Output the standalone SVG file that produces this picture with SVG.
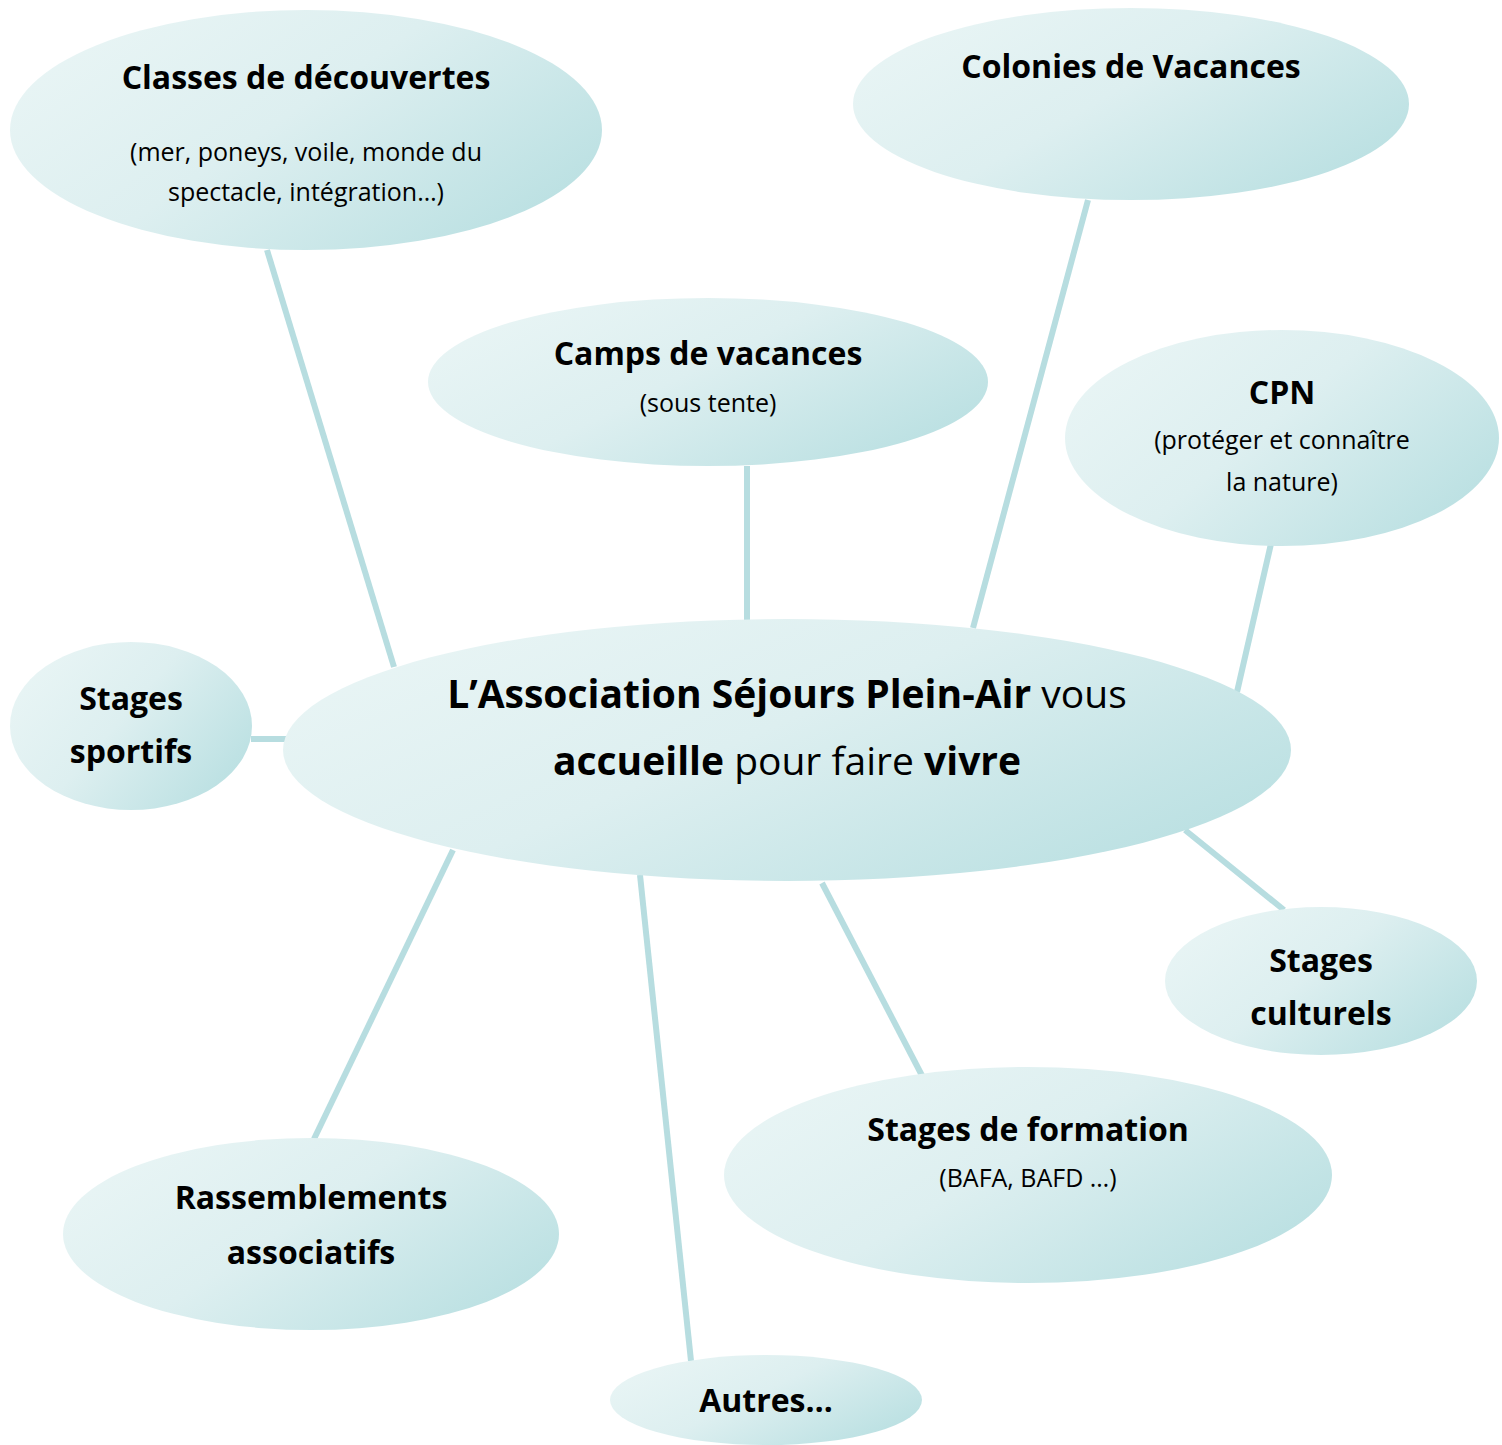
<svg xmlns="http://www.w3.org/2000/svg" width="1502" height="1445" viewBox="0 0 1502 1445">
<defs>
<linearGradient id="g" x1="0" y1="0.2" x2="1" y2="0.8">
<stop offset="0" stop-color="#e9f5f5"/>
<stop offset="0.45" stop-color="#ddeff0"/>
<stop offset="1" stop-color="#b8dfe1"/>
</linearGradient>
<style>
.n{fill:url(#g);}
.c line{stroke:#b7dde0;stroke-width:6;}
text{font-family:"Open Sans",Lato,"Liberation Sans",sans-serif;fill:#000;text-anchor:middle;}
.t{font-size:32px;font-weight:bold;}
.s{font-size:25px;}
.m{font-size:39px;}
.b{font-weight:bold;}
</style>
</defs>
<rect width="1502" height="1445" fill="#fff"/>
<g class="c" id="connectors">
<line x1="267" y1="250" x2="394" y2="667"/>
<line x1="1088" y1="200" x2="973" y2="628"/>
<line x1="747" y1="466" x2="747" y2="620"/>
<line x1="1273" y1="535" x2="1237" y2="692"/>
<line x1="251" y1="739" x2="288" y2="739"/>
<line x1="1185" y1="830" x2="1284" y2="910"/>
<line x1="822" y1="883" x2="929" y2="1089"/>
<line x1="640" y1="875" x2="691" y2="1361"/>
<line x1="453" y1="850" x2="314" y2="1139"/>
</g>
<g id="classes">
<ellipse class="n" cx="306" cy="130" rx="296" ry="120"/>
<text class="t" x="306" y="89">Classes de découvertes</text>
<text class="s" x="306" y="161">(mer, poneys, voile, monde du</text>
<text class="s" x="306" y="201">spectacle, intégration…)</text>
</g>
<g id="colonies">
<ellipse class="n" cx="1131" cy="104" rx="278" ry="96"/>
<text class="t" x="1131" y="78">Colonies de Vacances</text>
</g>
<g id="camps">
<ellipse class="n" cx="708" cy="382" rx="280" ry="84"/>
<text class="t" x="708" y="365">Camps de vacances</text>
<text class="s" x="708" y="412">(sous tente)</text>
</g>
<g id="cpn">
<ellipse class="n" cx="1282" cy="438" rx="217" ry="108"/>
<text class="t" x="1282" y="404">CPN</text>
<text class="s" x="1282" y="449">(protéger et connaître</text>
<text class="s" x="1282" y="491">la nature)</text>
</g>
<g id="central">
<ellipse class="n" cx="787" cy="750" rx="504" ry="131"/>
<text class="m" x="787" y="708"><tspan class="b">L’Association Séjours Plein-Air</tspan> vous</text>
<text class="m" x="787" y="775"><tspan class="b">accueille</tspan> pour faire <tspan class="b">vivre</tspan></text>
</g>
<g id="sportifs">
<ellipse class="n" cx="131" cy="726" rx="121" ry="84"/>
<text class="t" x="131" y="710">Stages</text>
<text class="t" x="131" y="763">sportifs</text>
</g>
<g id="culturels">
<ellipse class="n" cx="1321" cy="981" rx="156" ry="74"/>
<text class="t" x="1321" y="972">Stages</text>
<text class="t" x="1321" y="1025">culturels</text>
</g>
<g id="formation">
<ellipse class="n" cx="1028" cy="1175" rx="304" ry="108"/>
<text class="t" x="1028" y="1141">Stages de formation</text>
<text class="s" x="1028" y="1187">(BAFA, BAFD …)</text>
</g>
<g id="rassemblements">
<ellipse class="n" cx="311" cy="1234" rx="248" ry="96"/>
<text class="t" x="311" y="1209">Rassemblements</text>
<text class="t" x="311" y="1264">associatifs</text>
</g>
<g id="autres">
<ellipse class="n" cx="766" cy="1400" rx="156" ry="45"/>
<text class="t" x="766" y="1412">Autres…</text>
</g>
</svg>
